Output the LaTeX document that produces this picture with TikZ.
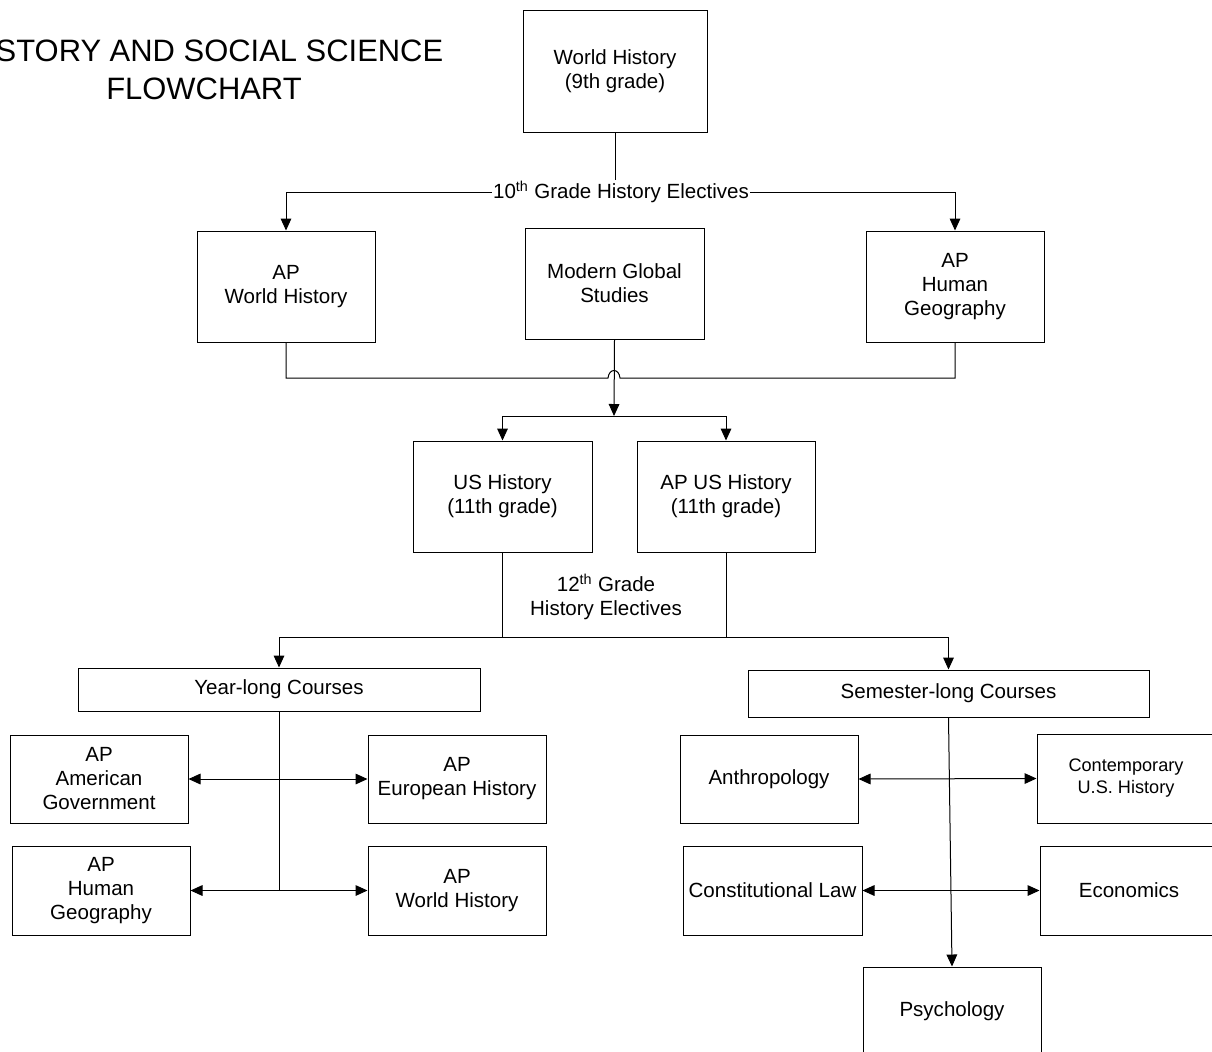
\documentclass[tikz,border=0pt]{standalone}
\usepackage{fontspec}
\setmainfont{Liberation Sans}
\usetikzlibrary{arrows.meta}
\tikzset{
  box/.style={draw, line width=0.75pt, align=center, inner sep=0pt,
    font=\fontsize{15.4pt}{18pt}\selectfont},
  lbl/.style={align=center, inner sep=1pt, font=\fontsize{15.4pt}{18pt}\selectfont},
  conn/.style={line width=0.75pt},
  arr/.style={conn, -{Triangle[length=9pt,width=8pt]}},
  arrtwo/.style={conn, {Triangle[length=9pt,width=8pt]}-{Triangle[length=9pt,width=8pt]}}
}
\begin{document}
\begin{tikzpicture}[x=0.75pt,y=-0.75pt]
\useasboundingbox (0,0) rectangle (1212,1051);
% title
\node[align=center, inner sep=0pt, font=\fontsize{23.2pt}{28.5pt}\selectfont] (title) at (204,70)
  {HISTORY AND SOCIAL SCIENCE\\FLOWCHART};
% boxes
\node[box, minimum width=138pt, minimum height=91.5pt] (wh) at (615,71) {World History\\(9th grade)};
\node[box, minimum width=133.5pt, minimum height=83.25pt] (apw) at (286,286.5) {AP\\World History};
\node[box, minimum width=134.25pt, minimum height=83.25pt] (mgs) at (614.5,283.5) {Modern Global\\Studies};
\node[box, minimum width=133.5pt, minimum height=83.25pt] (aphg) at (955,286.5) {AP\\Human\\Geography};
\node[box, minimum width=134.25pt, minimum height=83.25pt] (ush) at (502.5,496.5) {US History\\(11th grade)};
\node[box, minimum width=133.5pt, minimum height=83.25pt] (apush) at (726,496.5) {AP US History\\(11th grade)};
\node[box, minimum width=301.5pt, minimum height=32.25pt] (yl) at (279,689.5) {Year-long Courses};
\node[box, minimum width=300.75pt, minimum height=35.25pt] (sl) at (948.5,693.5) {Semester-long Courses};
\node[box, minimum width=133.5pt, minimum height=66pt] (apag) at (99,779) {AP\\American\\Government};
\node[box, minimum width=133.5pt, minimum height=66pt] (apeh) at (457,779) {AP\\European History};
\node[box, minimum width=133.5pt, minimum height=66.75pt] (aphgb) at (101,890.5) {AP\\Human\\Geography};
\node[box, minimum width=133.5pt, minimum height=66.75pt] (apwhb) at (457,890.5) {AP\\World History};
\node[box, minimum width=133.5pt, minimum height=66pt] (anth) at (769,779) {Anthropology};
\node[box, minimum width=133.5pt, minimum height=66.75pt, font=\fontsize{13.6pt}{16.5pt}\selectfont] (cush) at (1126,778.5) {Contemporary\\U.S. History};
\node[box, minimum width=134.25pt, minimum height=66.75pt] (conlaw) at (772.5,890.5) {Constitutional Law};
\node[box, minimum width=133.5pt, minimum height=66.75pt] (econ) at (1129,890.5) {Economics};
\node[box, minimum width=133.5pt, minimum height=66.75pt] (psych) at (952,1011.5) {Psychology};
% labels
\node[lbl] (lbl10) at (621,192) {10\textsuperscript{th} Grade History Electives};
\node[lbl] (lbl12) at (606,597) {12\textsuperscript{th} Grade\\History Electives};
% coordinates
\coordinate (hopL) at (608,378);
\coordinate (hopR) at (620,378);
\coordinate (split) at (614,416);
\coordinate (b12) at (614,637);
% connectors
\draw[conn] (wh.south) -- (wh.south |- lbl10.north);
\draw[arr] (lbl10.west) -| (apw.north);
\draw[arr] (lbl10.east) -| (aphg.north);
\draw[conn] (apw.south) |- (hopL) .. controls +(1,-10) and +(-1,-10) .. (hopR) -| (aphg.south);
\draw[arr] (mgs.south) -- (split);
\draw[arr] (split) -| (ush.north);
\draw[arr] (split) -| (apush.north);
\draw[arr] (ush.south) |- (b12) -| (yl.north);
\draw[arr] (apush.south) |- (b12) -| (sl.north);
\draw[conn] (yl.south) -- (yl.south |- aphgb.east);
\draw[arrtwo] (apag.east) -- (apeh.west);
\draw[arrtwo] (aphgb.east) -- (apwhb.west);
\draw[arr] (sl.south) -- (psych.north);
\draw[arrtwo] (anth.east) -- (cush.west);
\draw[arrtwo] (conlaw.east) -- (econ.west);
\end{tikzpicture}
\end{document}
